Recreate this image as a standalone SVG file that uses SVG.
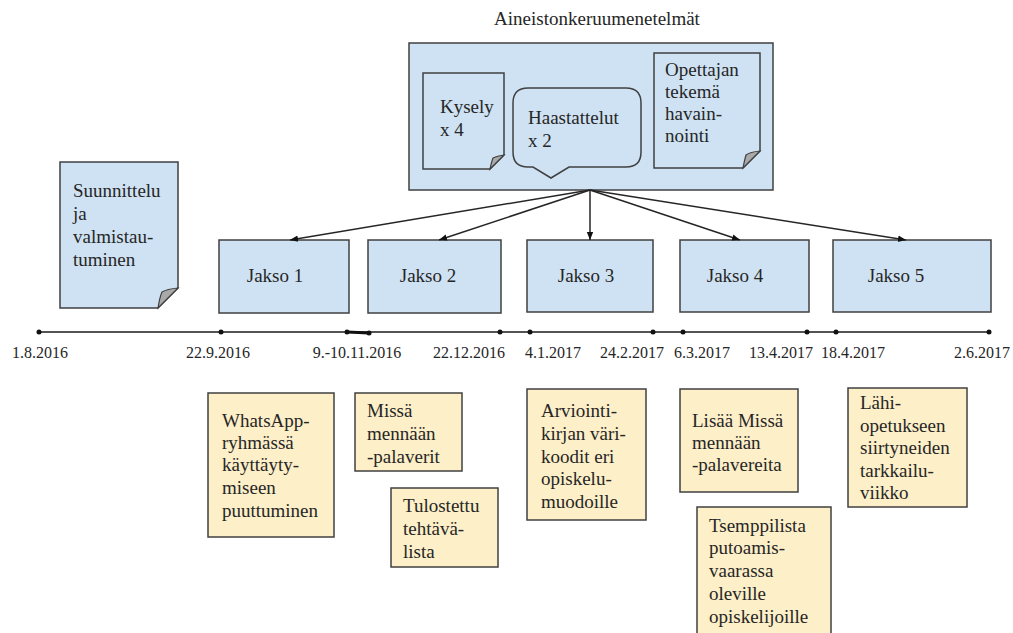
<svg xmlns="http://www.w3.org/2000/svg" width="1013" height="633" viewBox="0 0 1013 633">
<defs>
<style>
text{font-family:"Liberation Serif","Times New Roman",serif;fill:#262626}
.t19{font-size:19px}
.t16{font-size:16px}
.blue{fill:#cfe2f3;stroke:#404040;stroke-width:1.5}
.yel{fill:#fdefc8;stroke:#404040;stroke-width:1.5}
.fold{fill:#a9a9a9;stroke:#404040;stroke-width:1.2}
.conn{stroke:#262626;stroke-width:1.5;fill:none}
.tl{stroke:#1a1a1a;stroke-width:1.5;fill:none}
.dot{fill:#111}
</style>
<marker id="arr" markerUnits="userSpaceOnUse" markerWidth="8" markerHeight="8" viewBox="0 0 8 8" refX="8" refY="4" orient="auto">
<path d="M0,0.8 L8,4 L0,7.2 Z" fill="#111"/>
</marker>
</defs>
<rect width="1013" height="633" fill="#fff"/>

<text class="t19" x="597" y="25" text-anchor="middle">Aineistonkeruumenetelmät</text>

<g id="menetelmat">
<rect class="blue" x="409" y="43" width="364" height="147"/>
</g>
<g id="kysely">
<path class="blue" d="M423,73 H504 V155 L490,169 H423 Z"/>
<path class="fold" d="M504,155 L490,169 Q492,160 493,158 Q497,156 504,155 Z"/>
<text class="t19" x="440" y="113">Kysely</text>
<text class="t19" x="440" y="136">x 4</text>
</g>
<g id="haastattelut">
<path class="blue" d="M528,88 H626 Q641,88 641,103 V152 Q641,167 626,167 H569 L551,178 L533,167 H528 Q513,167 513,152 V103 Q513,88 528,88 Z"/>
<text class="t19" x="528" y="124">Haastattelut</text>
<text class="t19" x="528" y="147">x 2</text>
</g>
<g id="opettajan">
<path class="blue" d="M654,53 H760 V151 L743,168 H654 Z"/>
<path class="fold" d="M760,151 L743,168 Q745,158 746,155 Q750,152 760,151 Z"/>
<text class="t19" x="665" y="76">Opettajan</text>
<text class="t19" x="665" y="98">tekemä</text>
<text class="t19" x="665" y="120">havain-</text>
<text class="t19" x="665" y="142">nointi</text>
</g>

<g id="suunnittelu">
<path class="blue" d="M60,162 H178 V288 L158,308 H60 Z"/>
<path class="fold" d="M178,288 L158,308 Q160,296 162,292 Q167,289 178,288 Z"/>
<text class="t19" x="73" y="197">Suunnittelu</text>
<text class="t19" x="73" y="220">ja</text>
<text class="t19" x="73" y="243">valmistau-</text>
<text class="t19" x="73" y="266">tuminen</text>
</g>

<g id="jakso1">
<rect class="blue" x="219" y="240" width="130" height="73"/>
<text class="t19" x="275" y="282" text-anchor="middle">Jakso 1</text>
</g>
<g id="jakso2">
<rect class="blue" x="368" y="240" width="133" height="73"/>
<text class="t19" x="428" y="282" text-anchor="middle">Jakso 2</text>
</g>
<g id="jakso3">
<rect class="blue" x="527" y="240" width="126" height="72"/>
<text class="t19" x="586" y="282" text-anchor="middle">Jakso 3</text>
</g>
<g id="jakso4">
<rect class="blue" x="680" y="240" width="129" height="72"/>
<text class="t19" x="735" y="282" text-anchor="middle">Jakso 4</text>
</g>
<g id="jakso5">
<rect class="blue" x="833" y="240" width="158" height="72"/>
<text class="t19" x="896" y="282" text-anchor="middle">Jakso 5</text>
</g>

<g id="connectors">
<line class="conn" x1="590" y1="190" x2="290" y2="240" marker-end="url(#arr)"/>
<line class="conn" x1="590" y1="190" x2="439" y2="240" marker-end="url(#arr)"/>
<line class="conn" x1="590" y1="190" x2="590" y2="240" marker-end="url(#arr)"/>
<line class="conn" x1="590" y1="190" x2="740" y2="240" marker-end="url(#arr)"/>
<line class="conn" x1="590" y1="190" x2="906" y2="240" marker-end="url(#arr)"/>
</g>

<g id="timeline">
<line class="tl" x1="39" y1="332" x2="989" y2="332"/>
<line x1="347" y1="332" x2="369" y2="333" stroke="#111" stroke-width="3"/>
<circle class="dot" cx="39" cy="332" r="2.5"/>
<circle class="dot" cx="221" cy="332" r="2.5"/>
<circle class="dot" cx="347" cy="332" r="2.5"/>
<circle class="dot" cx="369" cy="333" r="2.5"/>
<circle class="dot" cx="500" cy="332" r="2.5"/>
<circle class="dot" cx="530" cy="332" r="2.5"/>
<circle class="dot" cx="653" cy="332" r="2.5"/>
<circle class="dot" cx="683" cy="332" r="2.5"/>
<circle class="dot" cx="807" cy="332" r="2.5"/>
<circle class="dot" cx="836" cy="332" r="2.5"/>
<circle class="dot" cx="989" cy="332" r="2.5"/>
<text class="t16" x="40" y="358" text-anchor="middle">1.8.2016</text>
<text class="t16" x="218" y="358" text-anchor="middle">22.9.2016</text>
<text class="t16" x="357" y="358" text-anchor="middle">9.-10.11.2016</text>
<text class="t16" x="469" y="358" text-anchor="middle">22.12.2016</text>
<text class="t16" x="553" y="358" text-anchor="middle">4.1.2017</text>
<text class="t16" x="632" y="358" text-anchor="middle">24.2.2017</text>
<text class="t16" x="702" y="358" text-anchor="middle">6.3.2017</text>
<text class="t16" x="781" y="358" text-anchor="middle">13.4.2017</text>
<text class="t16" x="853" y="358" text-anchor="middle">18.4.2017</text>
<text class="t16" x="982" y="358" text-anchor="middle">2.6.2017</text>
</g>

<g id="whatsapp">
<rect class="yel" x="208" y="393" width="126" height="144"/>
<text class="t19" x="222" y="427">WhatsApp-</text>
<text class="t19" x="222" y="449">ryhmässä</text>
<text class="t19" x="222" y="471">käyttäyty-</text>
<text class="t19" x="222" y="494">miseen</text>
<text class="t19" x="222" y="517">puuttuminen</text>
</g>
<g id="missa">
<rect class="yel" x="355" y="393" width="107" height="78"/>
<text class="t19" x="367" y="417">Missä</text>
<text class="t19" x="367" y="440">mennään</text>
<text class="t19" x="367" y="463">-palaverit</text>
</g>
<g id="tulostettu">
<rect class="yel" x="391" y="488" width="107" height="79"/>
<text class="t19" x="403" y="512">Tulostettu</text>
<text class="t19" x="403" y="535">tehtävä-</text>
<text class="t19" x="403" y="558">lista</text>
</g>
<g id="arviointi">
<rect class="yel" x="527" y="389" width="119" height="131"/>
<text class="t19" x="541" y="417">Arviointi-</text>
<text class="t19" x="541" y="440">kirjan väri-</text>
<text class="t19" x="541" y="463">koodit eri</text>
<text class="t19" x="541" y="485">opiskelu-</text>
<text class="t19" x="541" y="508">muodoille</text>
</g>
<g id="lisaa">
<rect class="yel" x="680" y="389" width="118" height="103"/>
<text class="t19" x="692" y="427">Lisää Missä</text>
<text class="t19" x="692" y="449">mennään</text>
<text class="t19" x="692" y="471">-palavereita</text>
</g>
<g id="tsemppilista">
<rect class="yel" x="697" y="507" width="134" height="140"/>
<text class="t19" x="709" y="532">Tsemppilista</text>
<text class="t19" x="709" y="554">putoamis-</text>
<text class="t19" x="709" y="577">vaarassa</text>
<text class="t19" x="709" y="600">oleville</text>
<text class="t19" x="709" y="623">opiskelijoille</text>
</g>
<g id="lahi">
<rect class="yel" x="848" y="388" width="119" height="119"/>
<text class="t19" x="860" y="409">Lähi-</text>
<text class="t19" x="860" y="432">opetukseen</text>
<text class="t19" x="860" y="454">siirtyneiden</text>
<text class="t19" x="860" y="477">tarkkailu-</text>
<text class="t19" x="860" y="499">viikko</text>
</g>
</svg>
